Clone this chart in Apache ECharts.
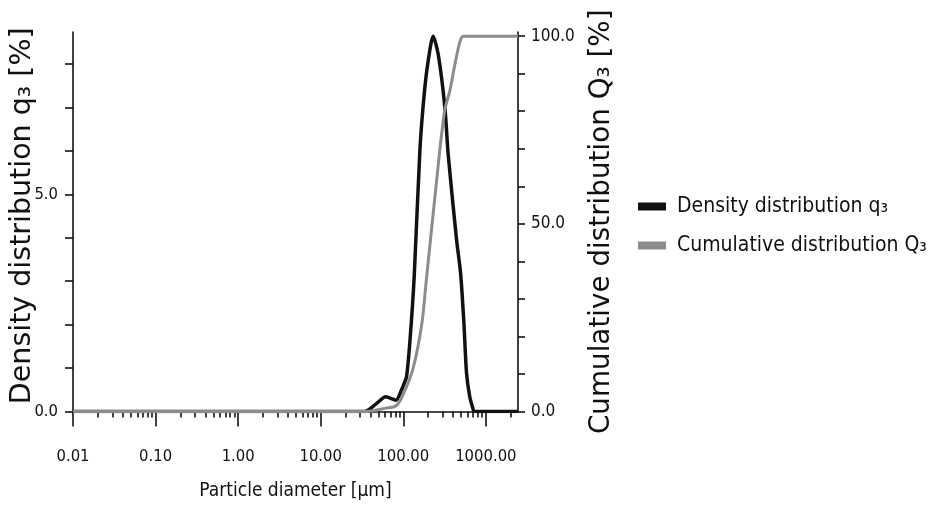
<!DOCTYPE html>
<html>
<head>
<meta charset="utf-8">
<script src="https://cdn.jsdelivr.net/npm/echarts@6/dist/echarts.min.js"></script>
<style>
html,body{margin:0;padding:0;background:#fff;}
#chart{width:934px;height:516px;}
</style>
</head>
<body>
<div id="chart"></div>
<script>
// ---- data ----
const diametersDensity = [0.01, 34.3, 46.5, 61.5, 81.3, 95.3, 104.5, 109.6, 120.2, 135.5, 159, 179, 200, 230, 265, 319, 350, 442, 494, 542, 583, 638, 697, 720, 2450];
const densityQ3 = [0, 0, 0.17, 0.34, 0.26, 0.5, 0.69, 0.8, 1.61, 3.1, 6.03, 7.3, 8.07, 8.64, 8.22, 7.0, 5.91, 3.95, 3.19, 2.04, 0.89, 0.34, 0.07, 0, 0];

const diametersCumulative = [0.01, 34.3, 61.5, 81.3, 95.3, 130.6, 167, 191, 277, 291, 319, 366, 422, 484, 531, 2450];
const cumulativeQ3 = [0, 0, 0.9, 1.5, 3.6, 11.3, 23.1, 35.5, 69.8, 73.8, 80.5, 85.4, 92.5, 98.4, 100, 100];

const xMajorTicks = [0.01, 0.1, 1, 10, 100, 1000];
const xMinorTicks = [
  0.02,0.03,0.04,0.05,0.06,0.07,0.08,0.09,
  0.2,0.3,0.4,0.5,0.6,0.7,0.8,0.9,
  2,3,4,5,6,7,8,9,
  20,30,40,50,60,70,80,90,
  200,300,400,500,600,700,800,900,
  2000
];
const leftTicks = [0, 1, 2, 3, 4, 5, 6, 7, 8];
const leftLabels = [0, 5];
const rightTicks = [0, 10, 20, 30, 40, 50, 60, 70, 80, 90, 100];
const rightLabels = [0, 50, 100];

const seriesNames = ['Density distribution q\u2083', 'Cumulative distribution Q\u2083'];

// ---- chart ----
const NARROW = '"DejaVu Sans Condensed", "Liberation Sans", sans-serif';
const WIDE = '"DejaVu Sans", Verdana, sans-serif';
const INK = '#111';

const chart = echarts.init(document.getElementById('chart'), null, {renderer: 'canvas'});

const zip = (xs, ys) => xs.map((x, i) => [x, ys[i]]);

chart.setOption({
  animation: false,
  backgroundColor: '#fff',
  grid: {left: 73, right: 416, top: 32, bottom: 104.5, containLabel: false},
  legend: {
    data: seriesNames,
    orient: 'vertical',
    left: 638,
    top: 196,
    icon: 'rect',
    itemWidth: 28,
    itemHeight: 8,
    itemGap: 18,
    padding: 0,
    textStyle: {fontFamily: NARROW, fontSize: 21, color: INK, padding: [0, 0, 0, 6]}
  },
  xAxis: [
    {
      type: 'log', logBase: 10, min: 0.01, max: 2450, position: 'bottom',
      axisLine: {show: true, onZero: false, lineStyle: {color: INK, width: 1.6}},
      axisTick: {show: true, inside: false, length: 15, customValues: xMajorTicks, lineStyle: {color: INK, width: 1.6}},
      axisLabel: {customValues: xMajorTicks, formatter: v => Number(v).toFixed(2), margin: 37,
                  fontFamily: NARROW, fontSize: 16.5, color: INK},
      splitLine: {show: false},
      name: 'Particle diameter [\u03bcm]', nameLocation: 'middle', nameGap: 70, nameMoveOverlap: false,
      nameTextStyle: {fontFamily: NARROW, fontSize: 19, color: INK}
    },
    {
      type: 'log', logBase: 10, min: 0.01, max: 2450, position: 'bottom',
      axisLine: {show: false, onZero: false},
      axisTick: {show: true, inside: false, length: 6, customValues: xMinorTicks, lineStyle: {color: INK, width: 1.6}},
      axisLabel: {show: false},
      splitLine: {show: false}
    }
  ],
  yAxis: [
    {
      type: 'value', min: 0, max: 8.74, position: 'left',
      axisLine: {show: true, lineStyle: {color: INK, width: 1.6}},
      axisTick: {show: true, inside: false, length: 8, customValues: leftTicks, lineStyle: {color: INK, width: 1.6}},
      axisLabel: {customValues: leftLabels, formatter: v => Number(v).toFixed(1), margin: 15,
                  fontFamily: NARROW, fontSize: 16.5, color: INK},
      splitLine: {show: false},
      name: 'Density distribution q\u2083 [%]', nameLocation: 'middle', nameRotate: 90, nameGap: 36,
      nameMoveOverlap: false,
      nameTextStyle: {fontFamily: WIDE, fontSize: 28.5, color: INK, padding: [0, 0, 0, 12]}
    },
    {
      type: 'value', min: 0, max: 101.1, position: 'right',
      axisLine: {show: true, lineStyle: {color: INK, width: 1.6}},
      axisTick: {show: true, inside: false, length: 7, customValues: rightTicks, lineStyle: {color: INK, width: 1.6}},
      axisLabel: {customValues: rightLabels, formatter: v => Number(v).toFixed(1), margin: 13,
                  fontFamily: NARROW, fontSize: 17, color: INK},
      splitLine: {show: false},
      name: 'Cumulative distribution Q\u2083 [%]', nameLocation: 'middle', nameRotate: 90, nameGap: 70,
      nameMoveOverlap: false,
      nameTextStyle: {fontFamily: WIDE, fontSize: 27.8, color: INK}
    }
  ],
  series: [
    {
      name: seriesNames[0], type: 'line', xAxisIndex: 0, yAxisIndex: 0,
      data: zip(diametersDensity, densityQ3),
      showSymbol: false, smooth: 0.25,
      lineStyle: {color: INK, width: 3.5}, itemStyle: {color: INK}, z: 2
    },
    {
      name: seriesNames[1], type: 'line', xAxisIndex: 0, yAxisIndex: 1,
      data: zip(diametersCumulative, cumulativeQ3),
      showSymbol: false, smooth: 0.3,
      lineStyle: {color: '#8c8c8c', width: 3}, itemStyle: {color: '#8c8c8c'}, z: 3
    }
  ]
});
</script>
</body>
</html>
